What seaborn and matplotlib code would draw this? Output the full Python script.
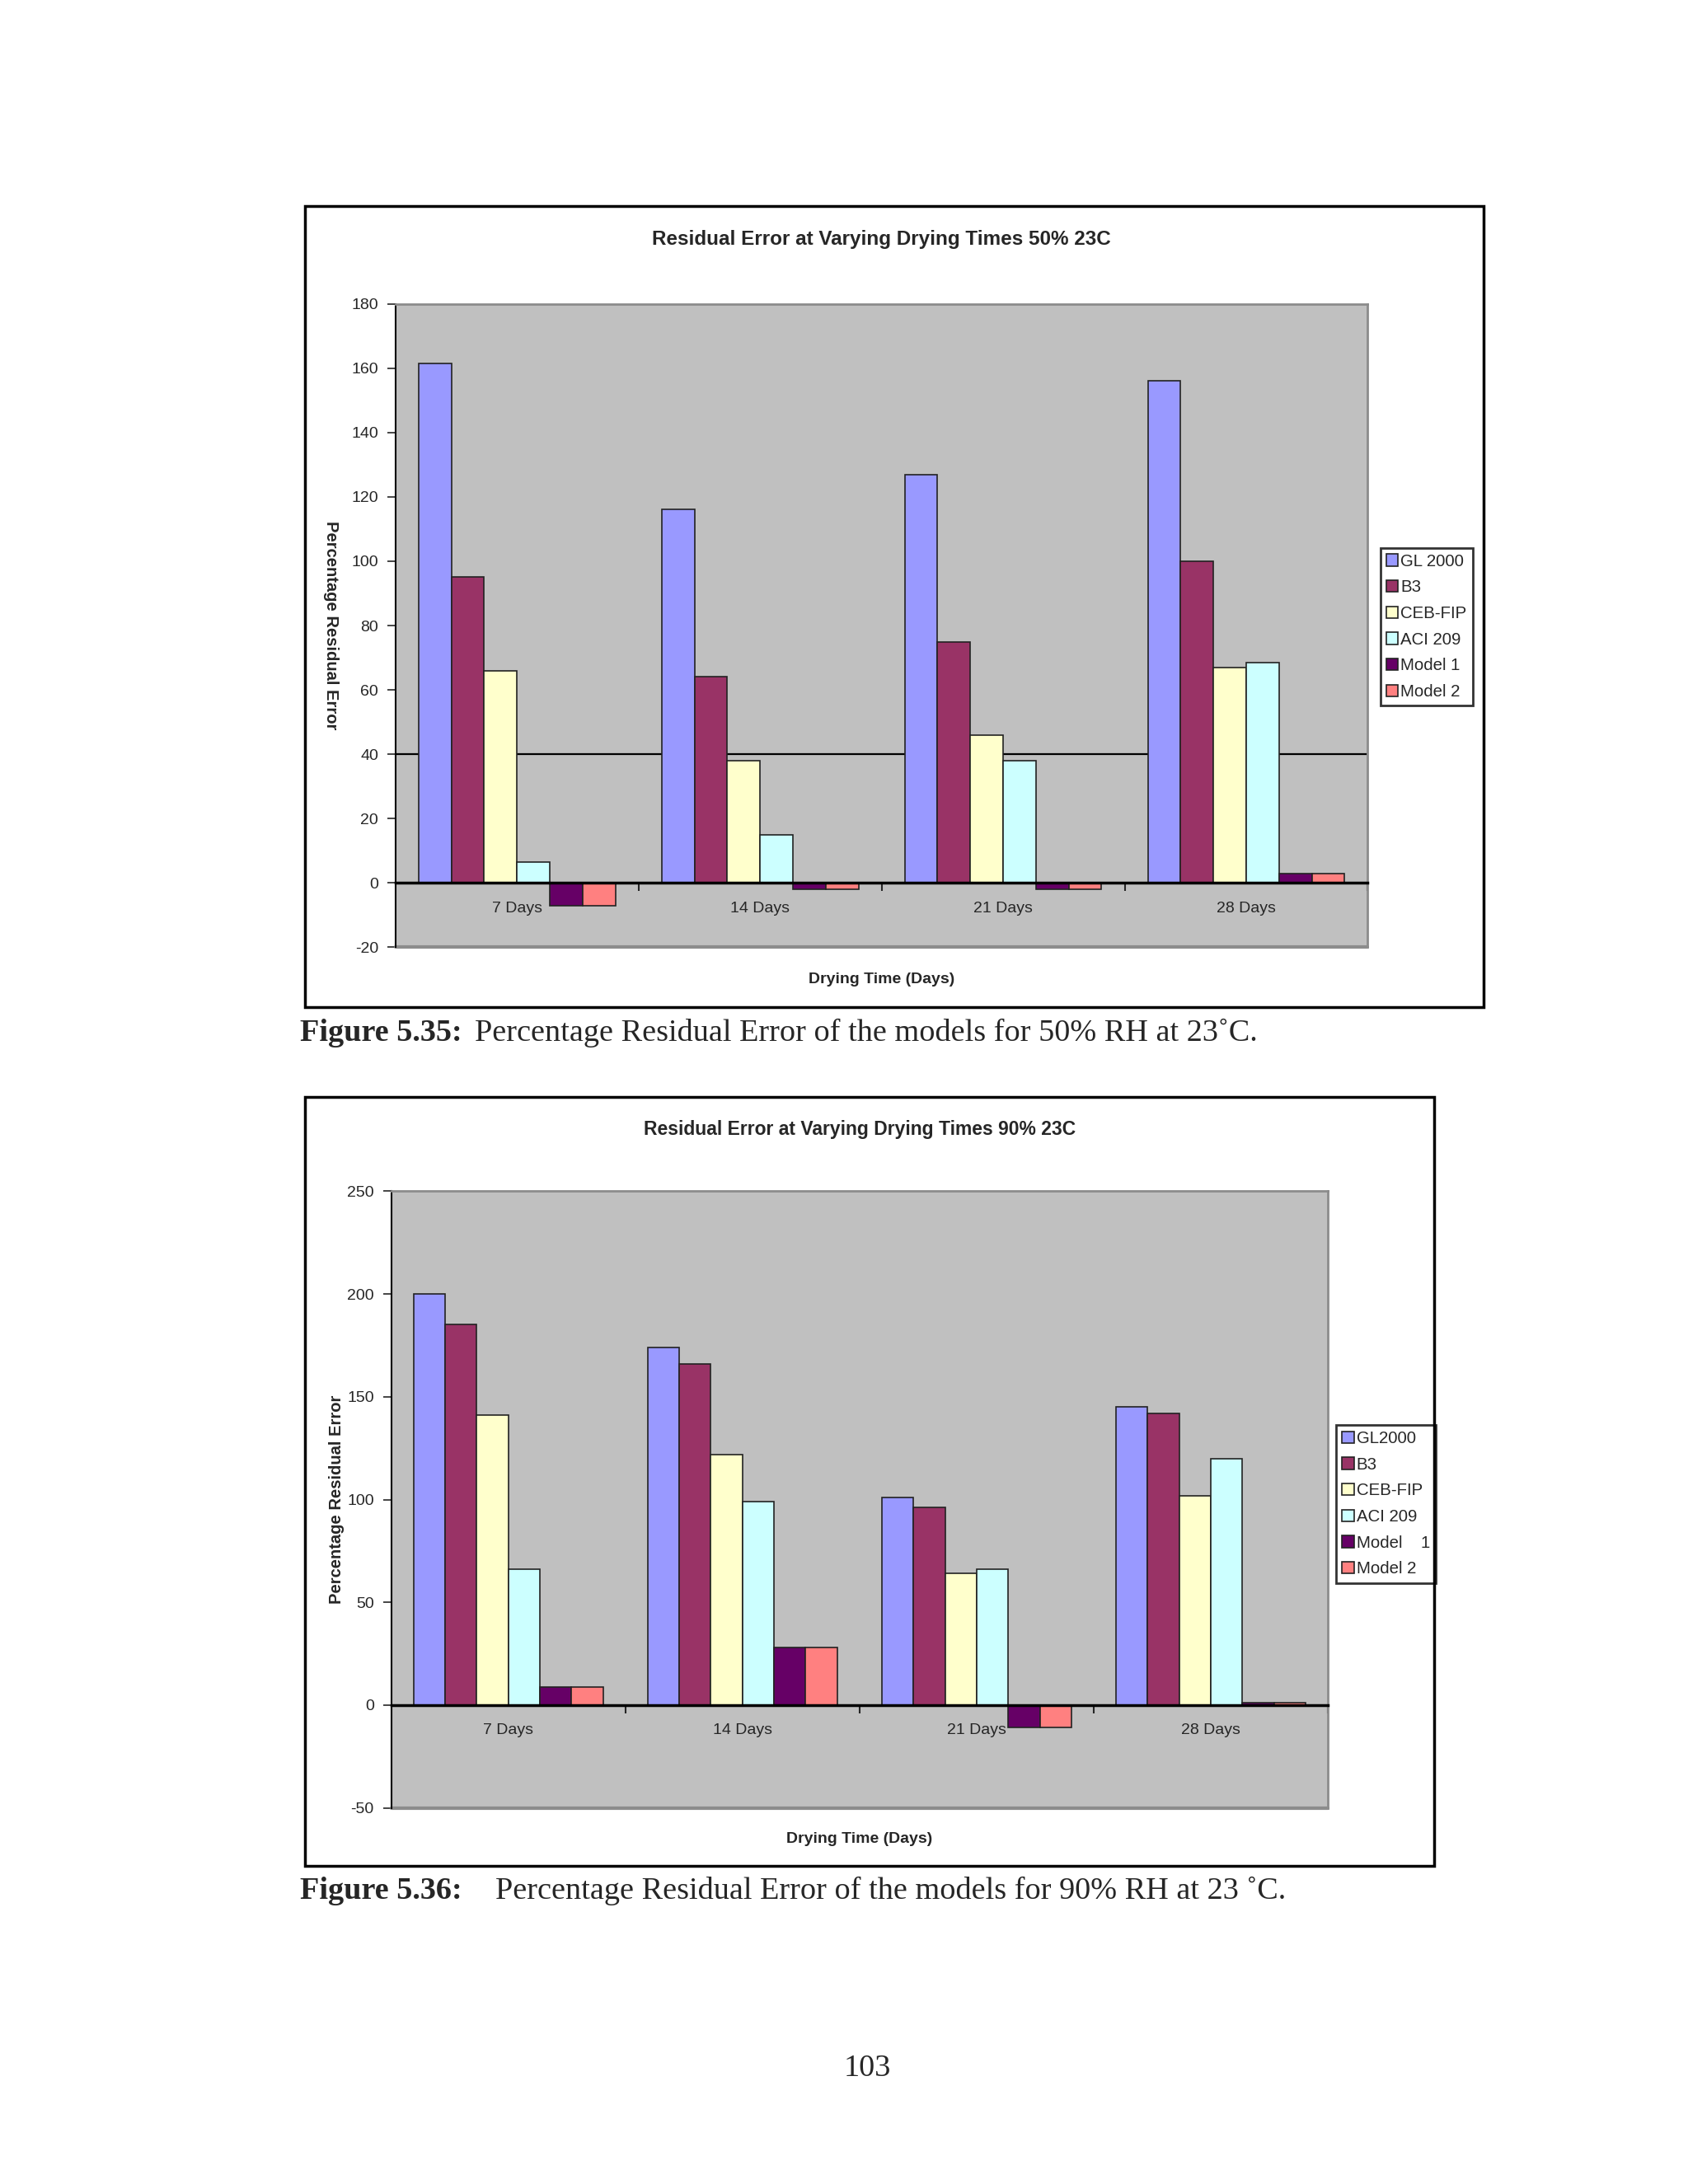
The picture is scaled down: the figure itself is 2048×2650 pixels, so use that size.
import pandas as pd
import seaborn as sns
import matplotlib.pyplot as plt
import matplotlib.ticker as ticker
from matplotlib.patches import Rectangle

days = ['7 Days', '14 Days', '21 Days', '28 Days']
models_50 = ['GL 2000', 'B3', 'CEB-FIP', 'ACI 209', 'Model 1', 'Model 2']
models_90 = ['GL2000', 'B3', 'CEB-FIP', 'ACI 209', 'Model    1', 'Model 2']
colors = ['#9999FF', '#993366', '#FFFFCC', '#CCFFFF', '#660066', '#FF8080']

# values per model, in order 7, 14, 21, 28 days
gl_50 = [161.5, 116, 127, 156]
b3_50 = [95, 64, 75, 100]
ceb_50 = [66, 38, 46, 67]
aci_50 = [6.5, 15, 38, 68.5]
m1_50 = [-7, -2, -2, 3]
m2_50 = [-7, -2, -2, 3]

gl_90 = [200, 174, 101, 145]
b3_90 = [185, 166, 96, 142]
ceb_90 = [141, 122, 64, 102]
aci_90 = [66, 99, 66, 120]
m1_90 = [9, 28, -11, 1]
m2_90 = [9, 28, -11, 1]


def long_frame(models, series):
    rows = []
    for m, vals in zip(models, series):
        for d, v in zip(days, vals):
            rows.append({'Day': d, 'Model': m, 'Error': v})
    return pd.DataFrame(rows)


data_50 = long_frame(models_50, [gl_50, b3_50, ceb_50, aci_50, m1_50, m2_50])
data_90 = long_frame(models_90, [gl_90, b3_90, ceb_90, aci_90, m1_90, m2_90])

sns.set_style("white")
plt.rcParams['font.family'] = ['Liberation Sans', 'DejaVu Sans']
plt.rcParams['axes.unicode_minus'] = False

fig = plt.figure(figsize=(20.48, 26.5), dpi=100)
W, H = 2048, 2650
K = 1.01  # correction on measured pixel positions


def fx(x):
    return x * K / W


def fy(y):
    return 1 - y * K / H


def fig_rect(x0, y0, x1, y1):
    # pixel box (top-left origin) -> figure fraction
    return [fx(x0), fy(y1), fx(x1) - fx(x0), fy(y0) - fy(y1)]


def draw_chart(ax, data, models, ylim, step, title, title_size, ylab_rot, ylab_x,
               leg_anchor, hline=None):
    ax.set_facecolor('#C0C0C0')
    if hline is not None:
        ax.axhline(hline, color='black', lw=1.6, zorder=0.5)
    sns.barplot(data=data, x='Day', y='Error', hue='Model', order=days, hue_order=models,
                palette=colors, saturation=1, width=0.81, edgecolor='#222222', linewidth=1.2,
                ax=ax, zorder=2)
    ax.set_ylim(*ylim)
    ax.set_xlim(-0.5, 3.5)
    ax.yaxis.set_major_locator(ticker.MultipleLocator(step))
    for s in ['top', 'right']:
        ax.spines[s].set_color('#8C8C8C')
        ax.spines[s].set_linewidth(2)
    ax.spines['left'].set_color('black')
    ax.spines['left'].set_linewidth(1.5)
    ax.spines['bottom'].set_position(('data', 0))
    ax.spines['bottom'].set_color('black')
    ax.spines['bottom'].set_linewidth(2.5)
    ax.spines['bottom'].set_zorder(3)
    ax.axhline(ylim[0], color='#8C8C8C', lw=3, clip_on=False)
    ax.tick_params(axis='y', direction='out', length=7, width=1.2, labelsize=14, left=True, pad=8)
    ax.set_xticks(range(len(days)))
    ax.set_xticklabels(days)
    ax.tick_params(axis='x', which='major', length=0, labelsize=14, pad=16)
    ax.xaxis.set_minor_locator(ticker.FixedLocator([0.5, 1.5, 2.5, 3.5]))
    ax.tick_params(axis='x', which='minor', direction='out', length=7, width=1.5, bottom=True)
    ax.set_xlabel('')
    ax.set_ylabel('')
    ax.text(0.5, 1.1, title, transform=ax.transAxes, ha='center', va='center',
            fontsize=title_size, fontweight='bold')
    ax.text(ylab_x, 0.5, 'Percentage Residual Error', transform=ax.transAxes, ha='center',
            va='center', rotation=ylab_rot, fontsize=14.5, fontweight='bold')
    ax.text(0.5, -0.05, 'Drying Time (Days)', transform=ax.transAxes, ha='center', va='center',
            fontsize=14, fontweight='bold')
    leg = ax.legend(loc='upper left', bbox_to_anchor=leg_anchor, borderaxespad=0, frameon=True,
                    fontsize=14.7, handlelength=0.7, handleheight=0.7, handletextpad=0.15,
                    labelspacing=0.62, borderpad=0.35, fancybox=False, edgecolor='black')
    leg.get_frame().set_linewidth(2)
    leg.get_frame().set_facecolor('white')


# outer chart boxes
b1 = fig_rect(366, 248, 1782, 1210)
b2 = fig_rect(366, 1318, 1723, 2242)
for b in (b1, b2):
    fig.patches.append(Rectangle((b[0], b[1]), b[2], b[3], transform=fig.transFigure,
                                 fill=False, lw=2.5, ec='black'))

ax1 = fig.add_axes(fig_rect(475, 365, 1643, 1138))
draw_chart(ax1, data_50, models_50, (-20, 180), 20, 'Residual Error at Varying Drying Times 50% 23C',
           17.5, 270, -0.066, (1.013, 0.621), hline=40)

ax2 = fig.add_axes(fig_rect(470, 1431, 1595, 2172))
draw_chart(ax2, data_90, models_90, (-50, 250), 50, 'Residual Error at Varying Drying Times 90% 23C',
           16.5, 90, -0.058, (1.009, 0.621))

serif = ['Liberation Serif', 'DejaVu Serif']
fig.text(fx(360), fy(1241), 'Figure 5.35:', fontsize=27.5, fontweight='bold', family=serif,
         va='center', ha='left')
fig.text(fx(570), fy(1241), 'Percentage Residual Error of the models for 50% RH at 23˚C.',
         fontsize=27.5, family=serif, va='center', ha='left')
fig.text(fx(360), fy(2272), 'Figure 5.36:', fontsize=27.5, fontweight='bold', family=serif,
         va='center', ha='left')
fig.text(fx(595), fy(2272), 'Percentage Residual Error of the models for 90% RH at 23 ˚C.',
         fontsize=27.5, family=serif, va='center', ha='left')
fig.text(fx(1042), fy(2485), '103', fontsize=27.5, family=serif, va='center', ha='center')

fig.savefig('out.png', dpi=100, facecolor='white')
